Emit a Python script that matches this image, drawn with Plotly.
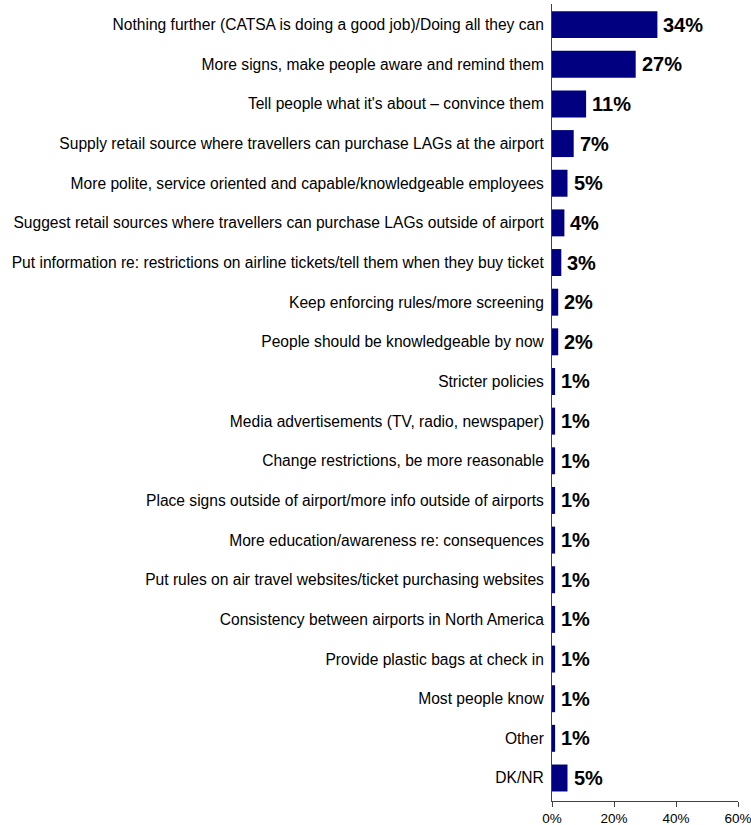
import plotly.graph_objects as go

categories = [
    "Nothing further (CATSA is doing a good job)/Doing all they can",
    "More signs, make people aware and remind them",
    "Tell people what it's about \u2013 convince them",
    "Supply retail source where travellers can purchase LAGs at the airport",
    "More polite, service oriented and capable/knowledgeable employees",
    "Suggest retail sources where travellers can purchase LAGs outside of airport",
    "Put information re: restrictions on airline tickets/tell them when they buy ticket",
    "Keep enforcing rules/more screening",
    "People should be knowledgeable by now",
    "Stricter policies",
    "Media advertisements (TV, radio, newspaper)",
    "Change restrictions, be more reasonable",
    "Place signs outside of airport/more info outside of airports",
    "More education/awareness re: consequences",
    "Put rules on air travel websites/ticket purchasing websites",
    "Consistency between airports in North America",
    "Provide plastic bags at check in",
    "Most people know",
    "Other",
    "DK/NR",
]
values = [34, 27, 11, 7, 5, 4, 3, 2, 2, 1, 1, 1, 1, 1, 1, 1, 1, 1, 1, 5]
x_ticks = [0, 20, 40, 60]
x_tick_labels = ["0%", "20%", "40%", "60%"]

FONT = "Liberation Sans, Arial"

fig = go.Figure(
    go.Bar(
        x=values,
        y=categories,
        orientation="h",
        marker=dict(color="#000080", line=dict(width=0)),
        width=0.68,
        hoverinfo="x+y",
    )
)

# bold value labels just right of each bar end
for cat, v in zip(categories, values):
    fig.add_annotation(
        x=v,
        y=cat,
        text=f"<b>{v}%</b>",
        showarrow=False,
        xanchor="left",
        yanchor="middle",
        xshift=4,
        font=dict(family=FONT, size=20, color="#000000"),
    )

fig.update_layout(
    width=751,
    height=825,
    margin=dict(l=552, r=13, t=4, b=24),
    paper_bgcolor="white",
    plot_bgcolor="white",
    showlegend=False,
    font=dict(family=FONT, color="#000000"),
)

fig.update_xaxes(
    range=[0, 60],
    tickvals=x_ticks,
    ticktext=x_tick_labels,
    tickfont=dict(size=13.5),
    ticklabeloverflow="allow",
    automargin=False,
    showgrid=False,
    zeroline=False,
    showline=True,
    linecolor="#404040",
    linewidth=1,
    ticks="outside",
    ticklen=5,
    tickcolor="#404040",
)

fig.update_yaxes(
    categoryorder="array",
    categoryarray=categories,
    range=[19.58, -0.52],
    tickfont=dict(size=15.6),
    automargin=False,
    showgrid=False,
    zeroline=False,
    showline=True,
    linecolor="#404040",
    linewidth=1,
    ticks="",
    ticklabelstandoff=4,
)

fig.write_html("out.html")
